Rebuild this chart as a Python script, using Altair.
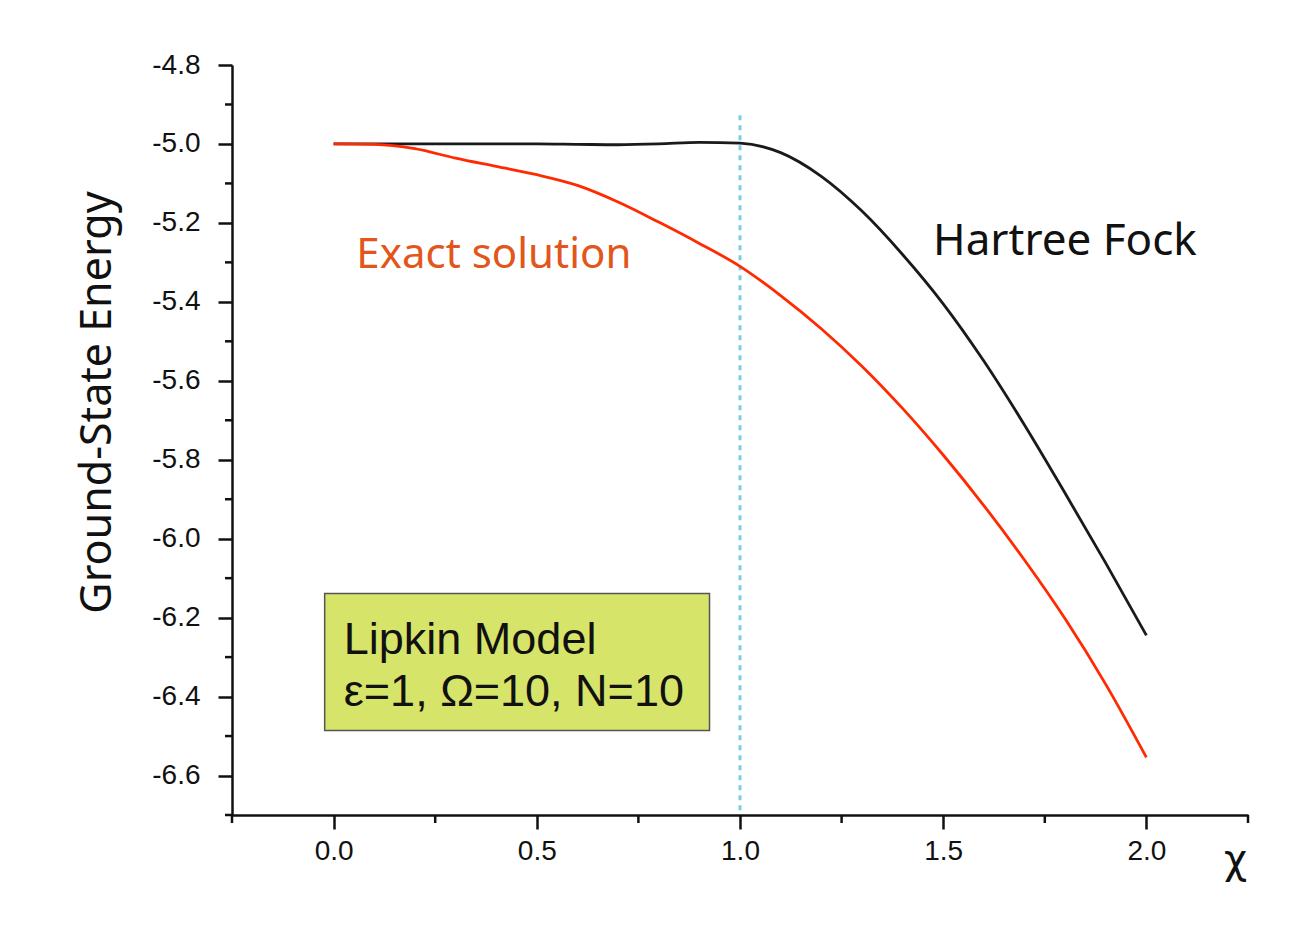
import altair as alt
import pandas as pd

# ---- data ----
chi = [0.0, 0.1, 0.2, 0.3, 0.4, 0.5, 0.6, 0.7, 0.8, 0.9, 1.0,
       1.1, 1.2, 1.3, 1.4, 1.5, 1.6, 1.7, 1.8, 1.9, 2.0]
hartree_fock = [-5.000, -5.000, -5.000, -5.000, -5.000, -5.000, -5.001, -5.002, -5.000, -4.996, -4.998,
                -5.022, -5.082, -5.170, -5.280, -5.405, -5.550, -5.712, -5.885, -6.062, -6.245]
exact = [-5.000, -5.001, -5.012, -5.036, -5.057, -5.078, -5.105, -5.147, -5.198, -5.252, -5.310,
         -5.384, -5.468, -5.563, -5.670, -5.788, -5.916, -6.054, -6.203, -6.369, -6.554]

x_major = [0.0, 0.5, 1.0, 1.5, 2.0]
x_minor = [-0.25, 0.25, 0.75, 1.25, 1.75, 2.25]
y_major = [-4.8, -5.0, -5.2, -5.4, -5.6, -5.8, -6.0, -6.2, -6.4, -6.6]
y_minor = [-4.9, -5.1, -5.3, -5.5, -5.7, -5.9, -6.1, -6.3, -6.5, -6.7]

x_domain = [-0.25, 2.25]
y_domain = [-6.7, -4.8]

box_lines = ["Lipkin Model", "ε=1, Ω=10, N=10"]

df = pd.DataFrame({"chi": chi * 2,
                   "E": hartree_fock + exact,
                   "series": ["Hartree Fock"] * len(chi) + ["Exact solution"] * len(chi)})
df_hf = df[df.series == "Hartree Fock"]
df_ex = df[df.series == "Exact solution"]

LABEL_FONT = "Liberation Sans"
TEXT_FONT = "Noto Sans"
AXIS_COLOR = "#111111"
W, H = 1016, 750
LABEL_EXPR = "replace(format(datum.value, '.1f'), '\u2212', '-')"

x_scale = alt.Scale(domain=x_domain, nice=False, zero=False)
y_scale = alt.Scale(domain=y_domain, nice=False, zero=False)

x_axis = alt.Axis(
    values=x_major, title="χ", grid=False, labelExpr=LABEL_EXPR,
    tickSize=14, tickWidth=2.5, tickColor=AXIS_COLOR, domainColor=AXIS_COLOR, domainWidth=2.5,
    labelFont=LABEL_FONT, labelFontSize=28, labelColor=AXIS_COLOR, labelPadding=8,
    labelFlush=False, labelOverlap=False,
    titleFont="DejaVu Sans", titleFontSize=40, titleFontWeight="normal", titleColor=AXIS_COLOR,
    titleX=1003, titleY=57, titleAlign="center", titleBaseline="alphabetic",
)
y_axis = alt.Axis(
    values=y_major, title="Ground-State Energy", grid=False, labelExpr=LABEL_EXPR,
    tickSize=14, tickWidth=2.5, tickColor=AXIS_COLOR, domainColor=AXIS_COLOR, domainWidth=2.5,
    labelFont=LABEL_FONT, labelFontSize=28, labelColor=AXIS_COLOR, labelPadding=18,
    labelFlush=False, labelOverlap=False,
    titleFont=TEXT_FONT, titleFontSize=43, titleFontWeight="normal", titleColor=AXIS_COLOR,
    titleX=-122, titleY=337, titleAngle=-90, titleAlign="center", titleBaseline="alphabetic",
)

hf_line = alt.Chart(df_hf).mark_line(color="#1a1a1a", strokeWidth=2.8, interpolate="monotone").encode(
    x=alt.X("chi:Q", scale=x_scale, axis=x_axis),
    y=alt.Y("E:Q", scale=y_scale, axis=y_axis))
ex_line = alt.Chart(df_ex).mark_line(color="#ff2a00", strokeWidth=2.8, interpolate="monotone").encode(
    x="chi:Q", y="E:Q")

# minor ticks (shorter), drawn through the shared scales
y_minor_ticks = alt.Chart(pd.DataFrame({"E": y_minor})).mark_rule(
    color=AXIS_COLOR, strokeWidth=2.5).encode(y="E:Q", x=alt.value(-7), x2=alt.value(0))
x_minor_ticks = alt.Chart(pd.DataFrame({"chi": x_minor})).mark_rule(
    color=AXIS_COLOR, strokeWidth=2.5).encode(x="chi:Q", y=alt.value(H), y2=alt.value(H + 8))

vline = alt.Chart(pd.DataFrame({"chi": [1.0], "E": [-4.927], "E2": [-6.7]})).mark_rule(
    color="#7fcde3", strokeWidth=3, strokeDash=[5, 5]).encode(x="chi:Q", y="E:Q", y2="E2:Q")

box = alt.Chart(pd.DataFrame({"chi": [-0.022], "chi2": [0.925], "E": [-6.139], "E2": [-6.486]})).mark_rect(
    fill="#d6e46a", stroke="#555555", strokeWidth=1.5).encode(
    x="chi:Q", x2="chi2:Q", y="E:Q", y2="E2:Q")

box_text = alt.Chart(pd.DataFrame({"chi": [0.025, 0.025], "E": [-6.257, -6.389],
                                   "t": box_lines})).mark_text(
    font=LABEL_FONT, fontSize=45, align="left", baseline="middle", color=AXIS_COLOR).encode(
    x="chi:Q", y="E:Q", text="t:N")

ex_label = alt.Chart(pd.DataFrame({"chi": [0.056], "E": [-5.281], "t": ["Exact solution"]})).mark_text(
    font=TEXT_FONT, fontSize=42, align="left", baseline="middle", color="#e2561b").encode(
    x="chi:Q", y="E:Q", text="t:N")

hf_label = alt.Chart(pd.DataFrame({"chi": [1.475], "E": [-5.248], "t": ["Hartree Fock"]})).mark_text(
    font=TEXT_FONT, fontSize=44, align="left", baseline="middle", color=AXIS_COLOR).encode(
    x="chi:Q", y="E:Q", text="t:N")

chart = alt.layer(hf_line, y_minor_ticks, x_minor_ticks, vline, ex_line, box, box_text,
                  ex_label, hf_label).properties(
    width=W, height=H,
    autosize=alt.AutoSizeParams(type="none"),
    padding={"left": 224, "top": 57, "right": 40, "bottom": 90},
).configure_view(stroke=None)

chart.save("out.html", embed_options={"renderer": "svg", "actions": False})
